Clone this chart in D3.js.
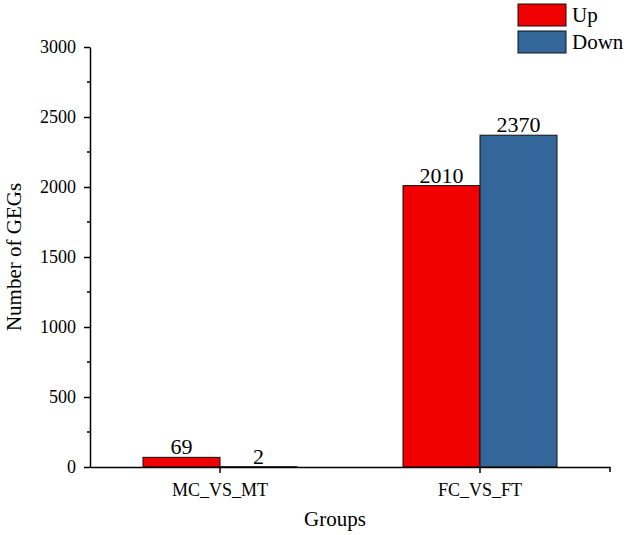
<!DOCTYPE html>
<html>
<head>
<meta charset="utf-8">
<script src="https://cdn.jsdelivr.net/npm/d3@7"></script>
<style>
  body { margin: 0; background: #fff; }
  svg text { font-family: "Liberation Serif", "Times New Roman", serif !important; fill: #000; }
</style>
</head>
<body>
<script>
// Chart data
const groups = ["MC_VS_MT", "FC_VS_FT"]
const series = ["Up", "Down"]
const upValues = [69, 2010]
const downValues = [2, 2370]
const yTicks = [0, 500, 1000, 1500, 2000, 2500, 3000]

const colors = ["#f00000", "#336699"]

const w = 630
const h = 535
const margin = { left: 90, right: 20, top: 47, bottom: 68 }

const svg = d3.select("body")
              .append("svg")
              .attr("width", w)
              .attr("height", h)

const x = d3.scaleBand()
            .domain(groups)
            .range([margin.left, w - margin.right])
            .padding(0)

const barW = 77
const x1 = d3.scaleBand()
             .domain(series)
             .range([x.bandwidth() / 2 - barW, x.bandwidth() / 2 + barW])

const y = d3.scaleLinear()
            .domain([0, 3000])
            .range([h - margin.bottom, margin.top])

// rows: one per group, with values for each series
const rows = groups.map((g, i) => ({ group: g, values: [upValues[i], downValues[i]] }))

const groupG = svg.selectAll("g.grp")
                  .data(rows)
                  .enter()
                  .append("g")
                  .attr("class", "grp")
                  .attr("transform", d => `translate(${x(d.group)}, 0)`)

const bars = groupG.selectAll("g.bar")
                   .data(d => d.values.map((v, i) => ({ key: series[i], value: v, i: i })))
                   .enter()
                   .append("g")
                   .attr("class", "bar")

bars.append("rect")
    .attr("x", d => x1(d.key))
    .attr("y", d => y(d.value))
    .attr("width", x1.bandwidth())
    .attr("height", d => y(0) - y(d.value))
    .attr("fill", d => colors[d.i])
    .attr("stroke", "#111")
    .attr("stroke-width", 1)

bars.append("text")
    .attr("x", d => x1(d.key) + x1.bandwidth() / 2)
    .attr("y", d => y(d.value) - 3)
    .attr("text-anchor", "middle")
    .style("font-size", "22px")
    .text(d => d.value)

// Y axis
const yAxis = d3.axisLeft(y)
                .tickValues(yTicks)
                .tickFormat(d3.format("d"))
                .tickSize(6)
                .tickSizeOuter(0)
const yG = svg.append("g")
              .attr("transform", `translate(${margin.left}, 0)`)
              .call(yAxis)
yG.selectAll("text").style("font-size", "18px").attr("x", -14)
yG.select(".domain").attr("stroke-width", 1.5)
yG.selectAll(".tick line").attr("stroke-width", 1.5)

// minor ticks
const minorTicks = d3.range(250, 3000, 500)
yG.selectAll("line.minor")
  .data(minorTicks)
  .enter()
  .append("line")
  .attr("class", "minor")
  .attr("x1", -3)
  .attr("x2", 0)
  .attr("y1", d => y(d))
  .attr("y2", d => y(d))
  .attr("stroke", "#000")
  .attr("stroke-width", 1.5)

// X axis
const xAxis = d3.axisBottom(x).tickSize(6).tickSizeOuter(0)
const xG = svg.append("g")
              .attr("transform", `translate(0, ${y(0)})`)
              .call(xAxis)
xG.selectAll("text").style("font-size", "18px").attr("y", 16)
xG.select(".domain").attr("stroke-width", 1.5)
xG.selectAll(".tick line").attr("stroke-width", 1.5)
xG.append("line")
  .attr("x1", w - margin.right)
  .attr("x2", w - margin.right)
  .attr("y1", 0)
  .attr("y2", 5)
  .attr("stroke", "#000")
  .attr("stroke-width", 1.5)

// Axis titles
svg.append("text")
   .attr("x", (margin.left + w - margin.right) / 2 - 15)
   .attr("y", 526)
   .attr("text-anchor", "middle")
   .style("font-size", "21px")
   .text("Groups")

svg.append("text")
   .attr("transform", `translate(21, ${(margin.top + h - margin.bottom) / 2}) rotate(-90)`)
   .attr("text-anchor", "middle")
   .style("font-size", "21px")
   .text("Number of GEGs")

// Legend
const legend = svg.append("g").attr("transform", "translate(518, 4)")
const legendItems = legend.selectAll("g")
                          .data(series)
                          .enter()
                          .append("g")
                          .attr("transform", (s, i) => `translate(0, ${i * 27})`)
legendItems.append("rect")
           .attr("width", 48)
           .attr("height", 22)
           .attr("fill", (s, i) => colors[i])
           .attr("stroke", "#111")
legendItems.append("text")
           .attr("x", 54)
           .attr("y", 18)
           .style("font-size", "21px")
           .text(s => s)
</script>
</body>
</html>
